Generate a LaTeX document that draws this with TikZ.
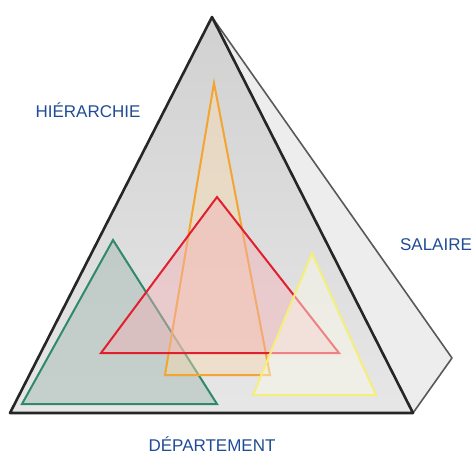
\documentclass[tikz,border=0pt]{standalone}
\usepackage{fontspec}
\setmainfont{Liberation Sans}
\usepackage{xcolor}
\definecolor{inkblue}{HTML}{1F4C94}
\definecolor{facegray}{HTML}{DCDCDC}
\definecolor{sidegray}{HTML}{EDEDED}
\definecolor{tgreen}{HTML}{2E8A6A}
\definecolor{tred}{HTML}{E0202E}
\definecolor{torange}{HTML}{F2A532}
\definecolor{tyellow}{HTML}{F4EE7A}

\begin{document}
\begin{tikzpicture}[x=1pt,y=-1pt,
  every node/.style={font=\fontsize{17}{19}\selectfont,text=inkblue,inner sep=1pt},
  face/.style={draw=black!85,line width=2.6pt,line join=round},
  side/.style={draw=black!65,line width=1.6pt,fill=sidegray,line join=round},
  tri/.style={line width=2pt,line join=miter,fill opacity=.45}
]
\useasboundingbox (0,0) rectangle (472,456);

% pyramid
\coordinate (top) at (212,17);
\coordinate (bl) at (10,413);
\coordinate (br) at (413,413);
\coordinate (back) at (452,358);
\filldraw[side] (top) -- (back) -- (br) -- cycle;
\shade[top color=facegray!95!black,bottom color=facegray!70!white] (top) -- (bl) -- (br) -- cycle;
\draw[face] (top) -- (bl) -- (br) -- cycle;

% inner triangles
\filldraw[tri,draw=tgreen,fill=tgreen!40!gray!60] (113,240) -- (22,404) -- (217,404) -- cycle;
\filldraw[tri,draw=torange,fill=torange!40] (214,83) -- (165,375) -- (270,375) -- cycle;
\filldraw[tri,draw=tred,fill=tred!35] (217,197) -- (101,353) -- (339,353) -- cycle;
\filldraw[tri,draw=tyellow,fill=tyellow!15] (312,253) -- (253,395) -- (376,395) -- cycle;

% labels
\node (hier) at (88,110) {HIÉRARCHIE};
\node (sal) at (436,245) {SALAIRE};
\node (dep) at (212,444) {DÉPARTEMENT};
\end{tikzpicture}
\end{document}
